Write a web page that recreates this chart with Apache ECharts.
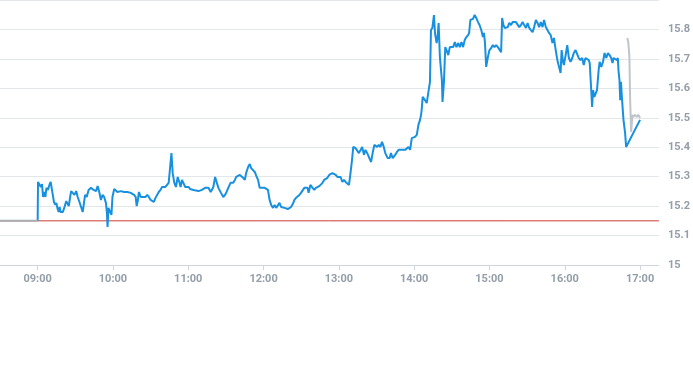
<!DOCTYPE html>
<html>
<head>
<meta charset="utf-8">
<script src="https://cdn.jsdelivr.net/npm/echarts@6/dist/echarts.min.js"></script>
<style>
html,body{margin:0;padding:0;background:#fff;}
#chart{width:693px;height:365px;}
</style>
</head>
<body>
<div id="chart"></div>
<script>
// minutes after 09:00 , price
const prevClose = 15.15;
const prevCloseSpan = [-30, 495];
const preMarket = [[-30,15.15],[0,15.15]];
const intraday = [[0,15.15],[0.3,15.282],[1.7,15.279],[2.5,15.265],[3.5,15.275],[4.3,15.231],[5.1,15.248],[6.2,15.231],[7.0,15.262],[8.2,15.255],[9.6,15.275],[10.4,15.282],[11.4,15.255],[13.0,15.214],[14.1,15.204],[14.9,15.211],[15.7,15.194],[16.7,15.18],[17.5,15.197],[18.3,15.18],[20.1,15.18],[21.4,15.197],[22.8,15.217],[24.0,15.221],[24.8,15.2],[25.9,15.231],[26.7,15.251],[28.0,15.245],[29.3,15.238],[30.7,15.251],[31.9,15.231],[33.3,15.214],[34.6,15.197],[35.9,15.18],[36.7,15.204],[37.8,15.238],[39.1,15.231],[40.6,15.255],[42.5,15.262],[44.6,15.255],[46.5,15.251],[47.8,15.268],[49.1,15.248],[50.4,15.221],[51.7,15.238],[53.0,15.231],[54.4,15.211],[55.2,15.177],[55.7,15.129],[56.4,15.194],[57.8,15.194],[58.8,15.17],[59.6,15.231],[61.0,15.258],[62.3,15.262],[63.6,15.248],[64.9,15.248],[66.3,15.251],[67.5,15.248],[68.9,15.248],[70.2,15.245],[71.5,15.248],[72.8,15.248],[74.2,15.245],[75.4,15.245],[76.8,15.238],[78.1,15.231],[78.9,15.2],[79.9,15.221],[80.7,15.248],[82.1,15.231],[83.3,15.231],[86.0,15.231],[87.3,15.238],[88.6,15.231],[90.0,15.221],[91.2,15.217],[92.6,15.214],[93.9,15.228],[95.2,15.231],[96.5,15.248],[97.9,15.255],[99.1,15.265],[100.5,15.268],[101.8,15.265],[103.1,15.272],[104.4,15.279],[105.8,15.282],[106.6,15.38],[107.6,15.312],[108.9,15.279],[110.2,15.265],[111.6,15.299],[112.9,15.282],[113.9,15.265],[115.0,15.289],[116.3,15.289],[117.6,15.265],[118.9,15.268],[120.2,15.265],[121.6,15.258],[122.9,15.258],[124.2,15.255],[125.5,15.251],[128.2,15.251],[130.8,15.255],[133.5,15.262],[136.1,15.262],[137.9,15.248],[140.0,15.265],[141.4,15.299],[142.6,15.282],[144.0,15.262],[145.3,15.265],[146.1,15.245],[147.9,15.231],[149.3,15.238],[150.5,15.248],[151.9,15.262],[153.7,15.279],[155.8,15.279],[157.2,15.289],[158.2,15.299],[161.1,15.306],[162.2,15.312],[163.7,15.296],[165.1,15.289],[166.1,15.312],[167.7,15.333],[169.0,15.343],[170.1,15.329],[171.6,15.323],[173.0,15.316],[174.3,15.302],[175.6,15.289],[176.9,15.262],[178.8,15.262],[180.9,15.262],[182.2,15.258],[183.5,15.255],[184.8,15.221],[186.1,15.204],[187.5,15.194],[188.8,15.204],[190.1,15.194],[191.4,15.197],[192.7,15.211],[194.0,15.197],[195.4,15.197],[196.7,15.194],[198.0,15.19],[199.3,15.19],[200.7,15.19],[201.9,15.197],[203.3,15.207],[204.6,15.221],[205.9,15.228],[207.2,15.231],[208.6,15.238],[209.8,15.245],[211.2,15.251],[212.5,15.262],[213.8,15.262],[215.1,15.262],[215.9,15.245],[217.3,15.272],[218.3,15.268],[219.1,15.262],[220.4,15.255],[221.7,15.262],[223.0,15.265],[224.4,15.268],[225.6,15.265],[227.0,15.279],[228.3,15.289],[229.6,15.292],[230.9,15.296],[232.3,15.306],[233.5,15.312],[234.9,15.312],[236.2,15.312],[237.5,15.306],[238.8,15.299],[240.2,15.299],[241.4,15.299],[242.8,15.282],[244.1,15.289],[245.4,15.282],[246.8,15.279],[248.1,15.272],[249.4,15.316],[250.5,15.357],[251.5,15.401],[253.3,15.397],[254.6,15.401],[256.0,15.38],[257.3,15.374],[258.6,15.401],[260.0,15.374],[261.2,15.391],[262.6,15.38],[263.9,15.367],[264.9,15.357],[265.7,15.35],[267.1,15.384],[268.3,15.408],[270.5,15.401],[271.8,15.408],[273.1,15.401],[274.4,15.418],[275.8,15.401],[277.0,15.38],[278.9,15.363],[280.5,15.363],[281.5,15.38],[282.9,15.363],[283.9,15.367],[284.9,15.374],[286.3,15.384],[287.6,15.391],[288.9,15.391],[290.2,15.391],[291.6,15.391],[292.8,15.391],[294.2,15.391],[295.5,15.401],[296.8,15.391],[298.1,15.431],[299.5,15.425],[300.7,15.435],[302.1,15.442],[303.4,15.476],[304.7,15.493],[305.5,15.51],[306.0,15.527],[306.8,15.571],[307.9,15.567],[308.6,15.56],[310.0,15.55],[311.3,15.554],[312.6,15.622],[313.4,15.798],[314.5,15.805],[315.8,15.849],[316.6,15.788],[317.9,15.754],[318.7,15.774],[319.5,15.822],[320.5,15.707],[321.3,15.703],[322.1,15.628],[322.6,15.554],[323.7,15.618],[324.8,15.74],[325.8,15.73],[327.2,15.713],[328.4,15.74],[329.8,15.74],[331.1,15.74],[332.4,15.757],[333.7,15.74],[335.1,15.754],[336.3,15.74],[337.7,15.757],[339.0,15.74],[340.3,15.764],[341.6,15.774],[343.0,15.781],[343.8,15.788],[344.8,15.832],[346.9,15.836],[348.2,15.849],[349.5,15.839],[350.9,15.825],[352.1,15.815],[353.5,15.798],[354.8,15.774],[355.6,15.788],[356.4,15.757],[357.4,15.673],[358.8,15.707],[360.0,15.73],[361.4,15.737],[362.7,15.747],[364.0,15.74],[365.3,15.747],[366.7,15.74],[367.9,15.74],[369.3,15.723],[370.1,15.839],[371.1,15.815],[372.2,15.805],[373.3,15.805],[374.6,15.808],[375.8,15.822],[377.2,15.815],[378.5,15.825],[379.8,15.822],[381.1,15.825],[382.5,15.822],[383.8,15.808],[385.1,15.815],[386.4,15.825],[387.7,15.815],[389.1,15.805],[390.4,15.822],[391.7,15.805],[393.0,15.798],[394.4,15.791],[395.6,15.808],[397.0,15.832],[398.3,15.822],[399.6,15.808],[400.9,15.825],[402.3,15.808],[403.5,15.832],[404.9,15.808],[406.2,15.798],[407.5,15.788],[408.8,15.781],[410.2,15.754],[411.4,15.771],[412.8,15.73],[414.1,15.696],[415.4,15.673],[416.7,15.652],[417.5,15.73],[418.6,15.69],[419.3,15.679],[420.7,15.713],[422.0,15.747],[423.3,15.703],[424.6,15.69],[426.0,15.703],[427.2,15.72],[428.6,15.73],[429.9,15.73],[431.2,15.703],[432.5,15.696],[433.9,15.703],[435.1,15.679],[436.5,15.703],[437.8,15.703],[439.1,15.696],[439.9,15.686],[441.0,15.601],[441.8,15.537],[442.6,15.594],[443.6,15.571],[444.4,15.577],[445.7,15.594],[447.0,15.662],[447.8,15.69],[449.1,15.673],[450.5,15.69],[451.7,15.72],[453.1,15.703],[454.4,15.72],[455.7,15.713],[457.0,15.703],[458.1,15.686],[458.9,15.703],[460.2,15.707],[461.6,15.696],[462.3,15.703],[462.8,15.662],[463.6,15.628],[464.2,15.56],[464.8,15.622],[465.5,15.571],[466.8,15.493],[468.1,15.448],[468.9,15.401],[480,15.493]];
const afterHours = [[469.9,15.771],[470.7,15.754],[471.5,15.707],[472.1,15.56],[472.9,15.452],[473.9,15.51],[474.7,15.503],[476.0,15.51],[477.4,15.503],[478.6,15.51],[480,15.499]];
const xTickMinutes = [0,60,120,180,240,300,360,420,480];
const xTickLabels = ['09:00','10:00','11:00','12:00','13:00','14:00','15:00','16:00','17:00'];
const yMin = 15, yMax = 15.9, yStep = 0.1;

const chart = echarts.init(document.getElementById('chart'), null, {renderer:'canvas'});
const labelColor = '#939ea9';
chart.setOption({
  animation: false,
  grid: {left: 0, right: 29, top: 0, bottom: 100, containLabel: false},
  xAxis: {
    type: 'value', min: -30, max: 495,
    axisLine: {show: true, lineStyle: {color: '#cfd6dd', width: 1}},
    axisTick: {show: true, length: 5, lineStyle: {color: '#cfd6dd'}, customValues: xTickMinutes},
    axisLabel: {
      customValues: xTickMinutes, margin: 9, color: labelColor, fontSize: 11, fontFamily: 'Roboto', fontWeight: 'bold',
      formatter: v => xTickLabels[xTickMinutes.indexOf(v)] || ''
    },
    splitLine: {show: false}
  },
  yAxis: {
    type: 'value', position: 'right', min: yMin, max: yMax, interval: yStep,
    axisLine: {show: false}, axisTick: {show: false},
    axisLabel: {color: labelColor, fontSize: 11, fontFamily: 'Roboto', fontWeight: 'bold', margin: 9, showMaxLabel: false,
      formatter: v => String(Math.round(v * 10) / 10)},
    splitLine: {lineStyle: {color: '#e4e7ea', width: 1}}
  },
  series: [
    {
      type: 'line', data: prevCloseSpan.map(m => [m, prevClose]), showSymbol: false, z: 1,
      lineStyle: {color: '#cc3a33', width: 1}, itemStyle: {color: '#cc3a33'}
    },
    {
      type: 'line', data: afterHours, showSymbol: false, z: 2,
      lineStyle: {color: '#bfc5cb', width: 2}, itemStyle: {color: '#bfc5cb'}
    },
    {
      type: 'line', data: intraday, showSymbol: false, z: 3,
      lineStyle: {color: '#1890e0', width: 2}, itemStyle: {color: '#1890e0'}
    },
    {
      type: 'line', data: preMarket, showSymbol: false, z: 4,
      lineStyle: {color: '#a9aeb3', width: 2}, itemStyle: {color: '#a9aeb3'}
    }
  ]
});
</script>
</body>
</html>
